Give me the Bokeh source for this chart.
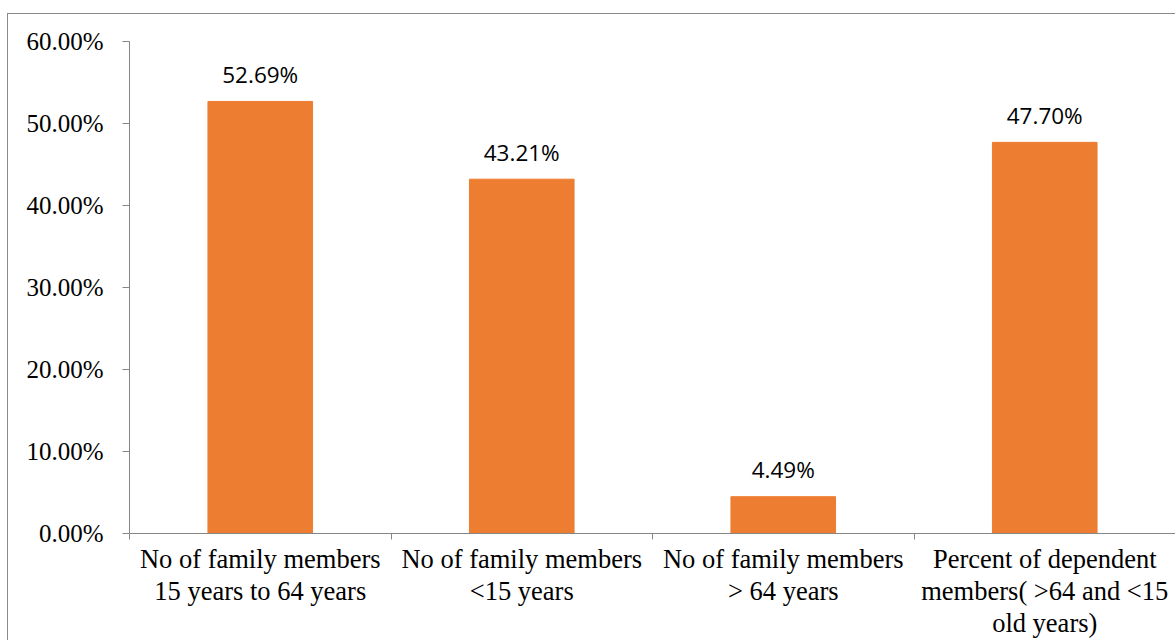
from bokeh.plotting import figure
from bokeh.models import ColumnDataSource, Range1d, FixedTicker, NumeralTickFormatter, LabelSet
from bokeh.core.properties import value
from bokeh.embed import file_html
from bokeh.resources import INLINE

categories = [
    "No of family members\n15 years to 64 years",
    "No of family members\n<15 years",
    "No of family members\n> 64 years",
    "Percent of dependent\nmembers( >64 and <15\nold years)",
]
values = [0.5269, 0.4321, 0.0449, 0.4770]
value_labels = ["52.69%", "43.21%", "4.49%", "47.70%"]
y_ticks = [0.0, 0.1, 0.2, 0.3, 0.4, 0.5, 0.6]

n = len(categories)
xs = [i + 0.5 for i in range(n)]
src = ColumnDataSource(dict(x=xs, v=values, lbl=value_labels))

p = figure(width=1168, height=627, x_range=Range1d(0, n), y_range=Range1d(0, 0.6),
           output_backend="svg", toolbar_location=None,
           min_border_left=121, min_border_right=1, min_border_top=27, min_border_bottom=108)
p.styles = {"border-left": "1px solid #8a8a8a", "border-top": "1px solid #8a8a8a",
            "margin-top": "13px", "margin-left": "7px"}
p.xgrid.visible = False
p.ygrid.visible = False
p.outline_line_color = None
p.background_fill_color = "white"
p.border_fill_color = "white"

p.vbar(x="x", top="v", width=0.4, color="#ED7D31", source=src)

labels = LabelSet(x="x", y="v", text="lbl", y_offset=27, text_align="center", text_baseline="middle",
                  text_font=value("Open Sans"), text_font_size="22.5px", text_color="#000000", source=src)
p.add_layout(labels)

axis_col = "#868686"
xa = p.xaxis[0]
xa.ticker = FixedTicker(ticks=xs, minor_ticks=list(range(n + 1)))
xa.major_label_overrides = {x: c for x, c in zip(xs, categories)}
xa.major_tick_out = 0
xa.major_tick_in = 0
xa.minor_tick_out = 6
xa.minor_tick_in = 0
xa.minor_tick_line_color = axis_col
xa.axis_line_color = axis_col
xa.major_label_standoff = 4
xa.major_label_text_font = "Liberation Serif"
xa.major_label_text_font_size = "26.5px"
xa.major_label_text_color = "#000000"
xa.major_label_text_align = "center"
xa.major_label_text_line_height = 1.075

ya = p.yaxis[0]
ya.ticker = FixedTicker(ticks=y_ticks)
ya.formatter = NumeralTickFormatter(format="0.00%")
ya.major_tick_out = 7
ya.major_tick_in = 0
ya.minor_tick_out = 0
ya.minor_tick_in = 0
ya.major_tick_line_color = axis_col
ya.axis_line_color = axis_col
ya.major_label_standoff = 19
ya.major_label_text_font = "Liberation Serif"
ya.major_label_text_font_size = "25px"
ya.major_label_text_color = "#000000"

open("out.html", "w").write(file_html(p, INLINE))
